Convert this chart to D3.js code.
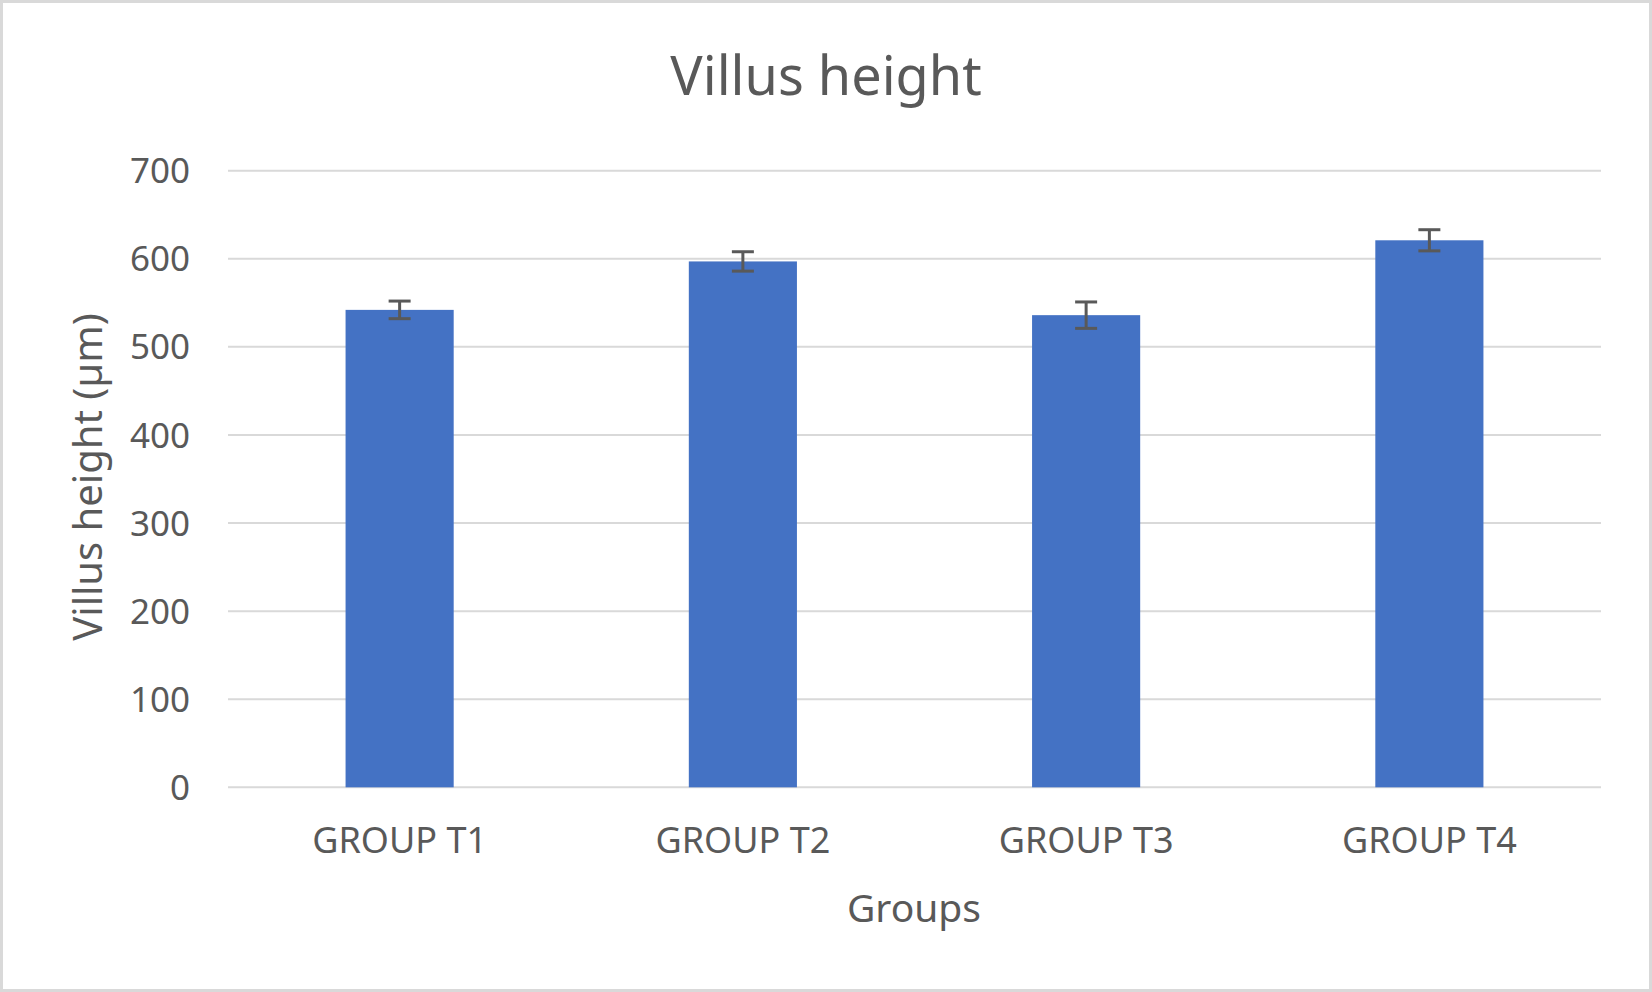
<!DOCTYPE html>
<html>
<head>
    <title>Villus height</title>
    <style>
        body { margin: 0; background: #fff; }
        svg text { font-family: "Noto Sans", "Open Sans", sans-serif; fill: #595959; }
        .grid line { stroke: #d9d9d9; stroke-width: 2; }
        .bar { fill: #4472c4; }
        .err { stroke: #595959; stroke-width: 3; }
    </style>
</head>
<body>
    <div id="chart"></div>
    <script src="https://cdnjs.cloudflare.com/ajax/libs/d3/7.8.5/d3.min.js"></script>
    <script>
        // Data
        const groups = ["GROUP T1", "GROUP T2", "GROUP T3", "GROUP T4"];
        const means = [542, 597, 536, 621];
        const errors = [10, 11, 15, 12];
        const yTicks = [0, 100, 200, 300, 400, 500, 600, 700];

        const W = 1652, H = 992;
        const plot = { left: 228, right: 1601, top: 170.7, bottom: 787.3 };

        const svg = d3.select("#chart").append("svg")
            .attr("width", W)
            .attr("height", H);

        // Chart border
        svg.append("rect")
            .attr("x", 1.5).attr("y", 1.5)
            .attr("width", W - 3).attr("height", H - 3)
            .attr("fill", "#fff")
            .attr("stroke", "#d9d9d9")
            .attr("stroke-width", 3);

        const x = d3.scaleBand()
            .domain(groups)
            .range([plot.left, plot.right])
            .paddingInner(0.685)
            .paddingOuter(0.3425);

        const y = d3.scaleLinear()
            .domain([0, 700])
            .range([plot.bottom, plot.top]);

        // Gridlines
        svg.append("g")
            .attr("class", "grid")
            .selectAll("line")
            .data(yTicks)
            .join("line")
            .attr("x1", plot.left)
            .attr("x2", plot.right)
            .attr("y1", d => y(d))
            .attr("y2", d => y(d));

        // Y tick labels
        svg.append("g")
            .selectAll("text")
            .data(yTicks)
            .join("text")
            .attr("x", 190)
            .attr("y", d => y(d))
            .attr("dy", "0.36em")
            .attr("text-anchor", "end")
            .attr("font-size", 35)
            .text(d => d);

        // Bars
        svg.append("g")
            .selectAll("rect")
            .data(groups)
            .join("rect")
            .attr("class", "bar")
            .attr("x", d => x(d))
            .attr("width", x.bandwidth())
            .attr("y", (d, i) => y(means[i]))
            .attr("height", (d, i) => y(0) - y(means[i]));

        // Error bars
        const cap = 11;
        const eb = svg.append("g").attr("class", "err");
        groups.forEach((g, i) => {
            const cx = x(g) + x.bandwidth() / 2;
            const hi = y(means[i] + errors[i]);
            const lo = y(means[i] - errors[i]);
            eb.append("line").attr("x1", cx).attr("x2", cx).attr("y1", hi).attr("y2", lo);
            eb.append("line").attr("x1", cx - cap).attr("x2", cx + cap).attr("y1", hi).attr("y2", hi);
            eb.append("line").attr("x1", cx - cap).attr("x2", cx + cap).attr("y1", lo).attr("y2", lo);
        });

        // Category labels
        svg.append("g")
            .selectAll("text")
            .data(groups)
            .join("text")
            .attr("x", d => x(d) + x.bandwidth() / 2)
            .attr("y", 853)
            .attr("text-anchor", "middle")
            .attr("font-size", 36)
            .text(d => d);

        // Title
        svg.append("text")
            .attr("x", 826)
            .attr("y", 95)
            .attr("text-anchor", "middle")
            .attr("font-size", 54)
            .text("Villus height");

        // Axis titles
        svg.append("text")
            .attr("x", 914)
            .attr("y", 922)
            .attr("text-anchor", "middle")
            .attr("font-size", 39)
            .text("Groups");

        svg.append("text")
            .attr("transform", "translate(102,477) rotate(-90)")
            .attr("text-anchor", "middle")
            .attr("font-size", 40)
            .text("Villus height (\u00b5m)");
    </script>
</body>
</html>
